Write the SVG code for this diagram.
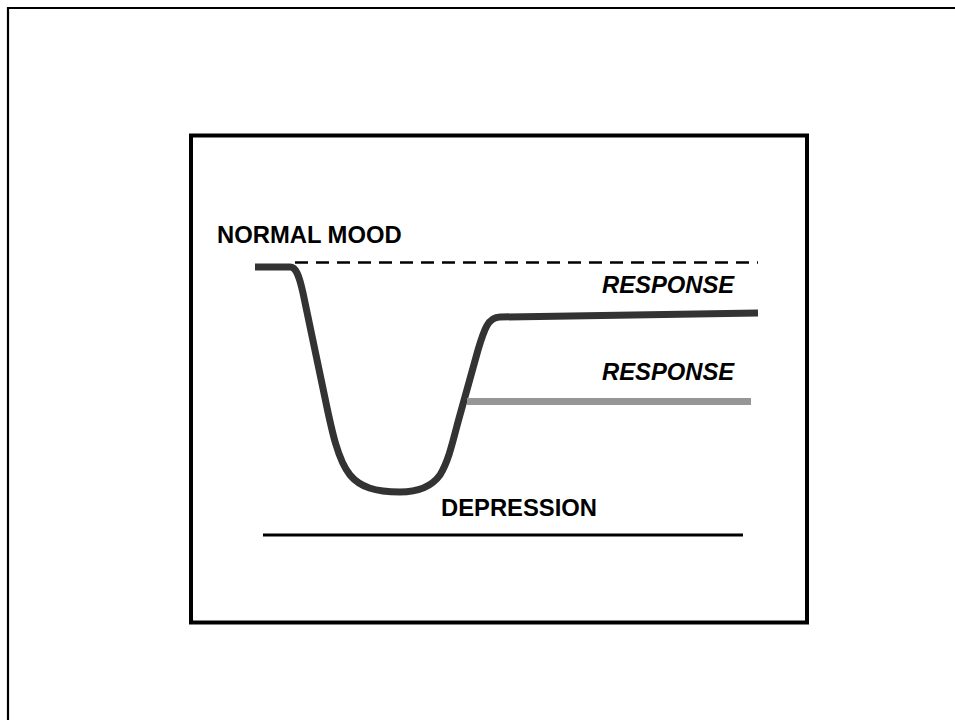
<svg xmlns="http://www.w3.org/2000/svg" width="955" height="720" viewBox="0 0 955 720">
<style>
.lbl{font-family:"Liberation Sans",Arial,sans-serif;font-weight:bold;font-size:23.8px;fill:#000}
.it{font-style:italic}
</style>
<rect x="0" y="0" width="955" height="720" fill="#fff"/>
<g id="outer-frame"><path d="M8,720 V8 H955" fill="none" stroke="#000" stroke-width="2.2"/></g>
<g id="chart-box"><rect x="191" y="135.5" width="616" height="487" fill="#fff" stroke="#000" stroke-width="4"/></g>
<g id="connectors" fill="none">
<path id="normal-line" d="M295,262.5 H758" stroke="#000" stroke-width="2.5" stroke-dasharray="13 8"/>
<path id="mood-curve" d="M255,267 L290,267 C296,267 299,275 303,293 L325,398 C332,432 338,460 350,475 C360,487 375,492 400,492 C420,492 432,486 440,475 C448,462 452,445 458,422 L478,350 C484,330 488,317 500,317 L758,313" stroke="#333" stroke-width="7" stroke-linejoin="round"/>
<path id="partial-line" d="M467,401.5 H751" stroke="#969696" stroke-width="7"/>
<path id="baseline" d="M263,535 H743" stroke="#000" stroke-width="3"/>
</g>
<g id="label-normal"><text class="lbl" x="217" y="243">NORMAL MOOD</text></g>
<g id="label-response-full"><text class="lbl it" x="602" y="293">RESPONSE</text></g>
<g id="label-response-partial"><text class="lbl it" x="602" y="380">RESPONSE</text></g>
<g id="label-depression"><text class="lbl" x="441" y="516">DEPRESSION</text></g>
</svg>
